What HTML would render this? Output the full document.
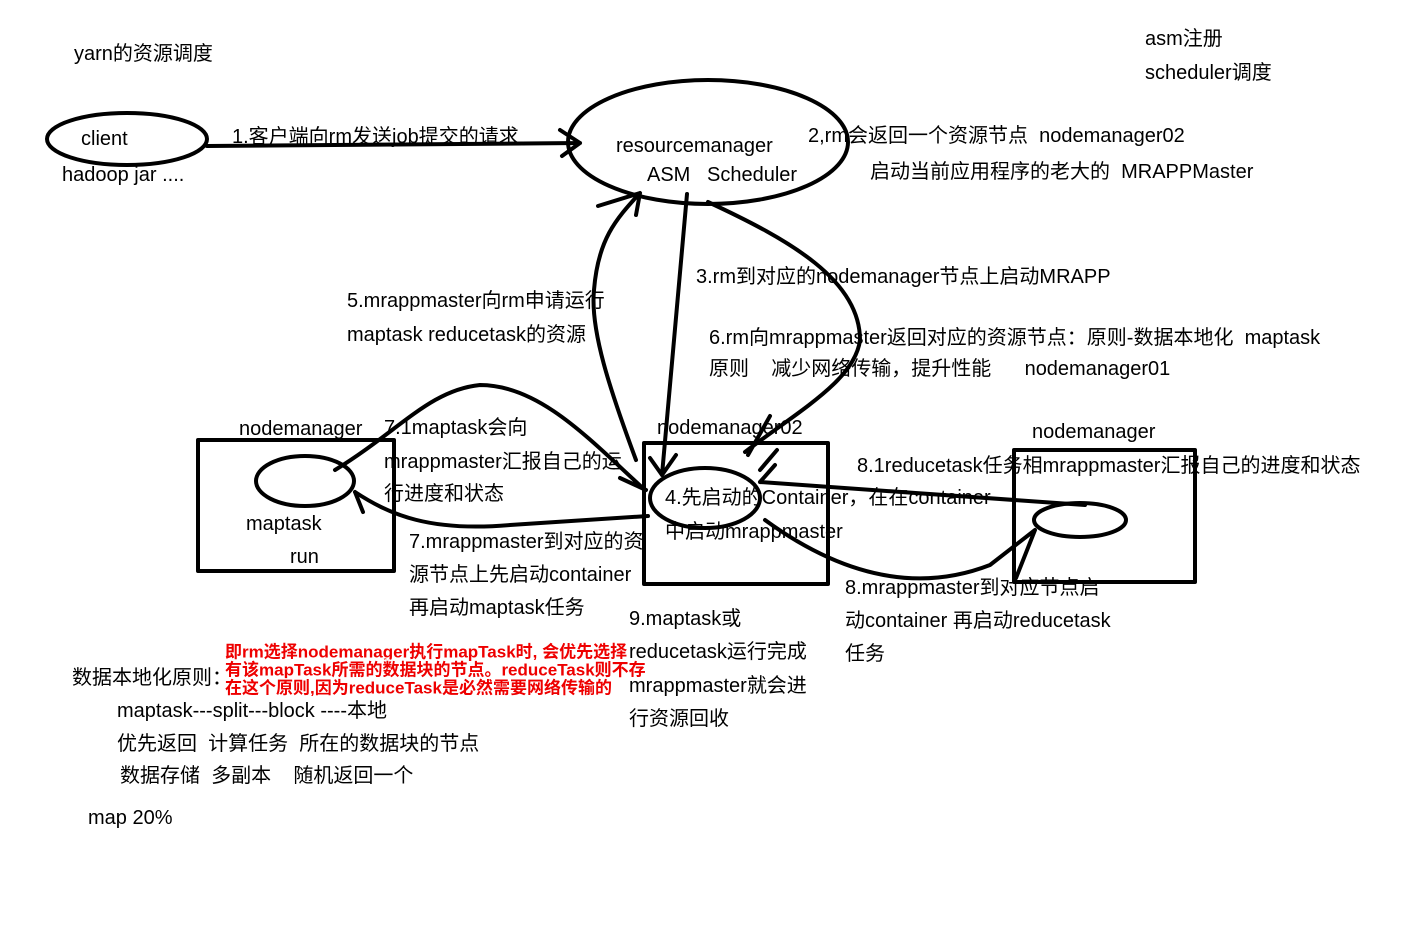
<!DOCTYPE html>
<html><head><meta charset="utf-8"><style>
html,body{margin:0;padding:0;background:#fff;}
svg{display:block}
text{font-family:"Liberation Sans","Noto Sans CJK SC",sans-serif;font-size:20px;fill:#000;dominant-baseline:central;white-space:pre}
.r{fill:#e00;font-weight:bold;font-size:17px;stroke:#fff;stroke-width:3px;paint-order:stroke}
</style></head><body>
<svg width="1402" height="942" viewBox="0 0 1402 942" xmlns="http://www.w3.org/2000/svg" xml:space="preserve">
<g fill="none" stroke="#000" stroke-width="4" stroke-linecap="round" stroke-linejoin="round">
<ellipse cx="127" cy="139" rx="80" ry="26"/>
<ellipse cx="708" cy="142" rx="140" ry="62"/>
<path d="M207,146 L580,143 M560,130 L580,143 L562,156"/>
<rect x="198" y="440" width="196" height="131"/>
<ellipse cx="305" cy="481" rx="49" ry="25"/>
<rect x="644" y="443" width="184" height="141"/>
<ellipse cx="705" cy="498" rx="55" ry="30"/>
<rect x="1014" y="450" width="181" height="132"/>
<ellipse cx="1080" cy="520" rx="46" ry="17"/>
<path d="M636,460 C610,390 590,330 594,290 C598,240 615,220 640,193 M598,206 L640,193 L636,215"/>
<path d="M687,194 L662,475 M650,458 L662,475 L676,455"/>
<path d="M708,202 C790,240 860,280 860,340 C855,380 800,410 745,452 M770,416 L748,455"/>
<path d="M777,450 L760,470"/>
<path d="M335,470 C400,430 430,390 480,385 C540,385 590,440 645,490 M620,478 L646,490"/>
<path d="M648,516 L510,525 C430,532 390,515 355,492 M355,492 L363,512"/>
<path d="M760,482 L1085,505 M760,482 L775,465"/>
<path d="M765,520 C820,560 900,600 990,565 L1035,530 L1016,578"/>
</g>
<text x="74" y="54">yarn的资源调度</text>
<text x="1145" y="39">asm注册</text>
<text x="1145" y="73">scheduler调度</text>
<text x="81" y="139">client</text>
<text x="62" y="175">hadoop jar ....</text>
<text x="232" y="137">1.客户端向rm发送job提交的请求</text>
<text x="616" y="146">resourcemanager</text>
<text x="647" y="175">ASM   Scheduler</text>
<text x="808" y="136">2,rm会返回一个资源节点  nodemanager02</text>
<text x="870" y="172">启动当前应用程序的老大的  MRAPPMaster</text>
<text x="696" y="277">3.rm到对应的nodemanager节点上启动MRAPP</text>
<text x="347" y="301">5.mrappmaster向rm申请运行</text>
<text x="347" y="335">maptask reducetask的资源</text>
<text x="709" y="338">6.rm向mrappmaster返回对应的资源节点：原则-数据本地化  maptask</text>
<text x="709" y="369">原则    减少网络传输，提升性能      nodemanager01</text>
<text x="239" y="429">nodemanager</text>
<text x="246" y="524">maptask</text>
<text x="290" y="557">run</text>
<text x="384" y="428">7.1maptask会向</text>
<text x="384" y="462">mrappmaster汇报自己的运</text>
<text x="384" y="494">行进度和状态</text>
<text x="657" y="428">nodemanager02</text>
<text x="665" y="498">4.先启动的Container，在在container</text>
<text x="665" y="532">中启动mrappmaster</text>
<text x="409" y="542">7.mrappmaster到对应的资</text>
<text x="409" y="575">源节点上先启动container</text>
<text x="409" y="608">再启动maptask任务</text>
<text x="1032" y="432">nodemanager</text>
<text x="857" y="466">8.1reducetask任务相mrappmaster汇报自己的进度和状态</text>
<text x="845" y="588">8.mrappmaster到对应节点启</text>
<text x="845" y="621">动container 再启动reducetask</text>
<text x="845" y="654">任务</text>
<text x="629" y="619">9.maptask或</text>
<text x="629" y="652">reducetask运行完成</text>
<text x="629" y="686">mrappmaster就会进</text>
<text x="629" y="719">行资源回收</text>
<text x="72" y="678">数据本地化原则：</text>
<text x="117" y="711">maptask---split---block ----本地</text>
<text x="117" y="744">优先返回  计算任务  所在的数据块的节点</text>
<text x="120" y="776">数据存储  多副本    随机返回一个</text>
<text x="88" y="818">map 20%</text>
<text class="r" x="225" y="652">即rm选择nodemanager执行mapTask时, 会优先选择</text>
<text class="r" x="225" y="670">有该mapTask所需的数据块的节点。reduceTask则不存</text>
<text class="r" x="225" y="688">在这个原则,因为reduceTask是必然需要网络传输的</text>
</svg>
</body></html>
